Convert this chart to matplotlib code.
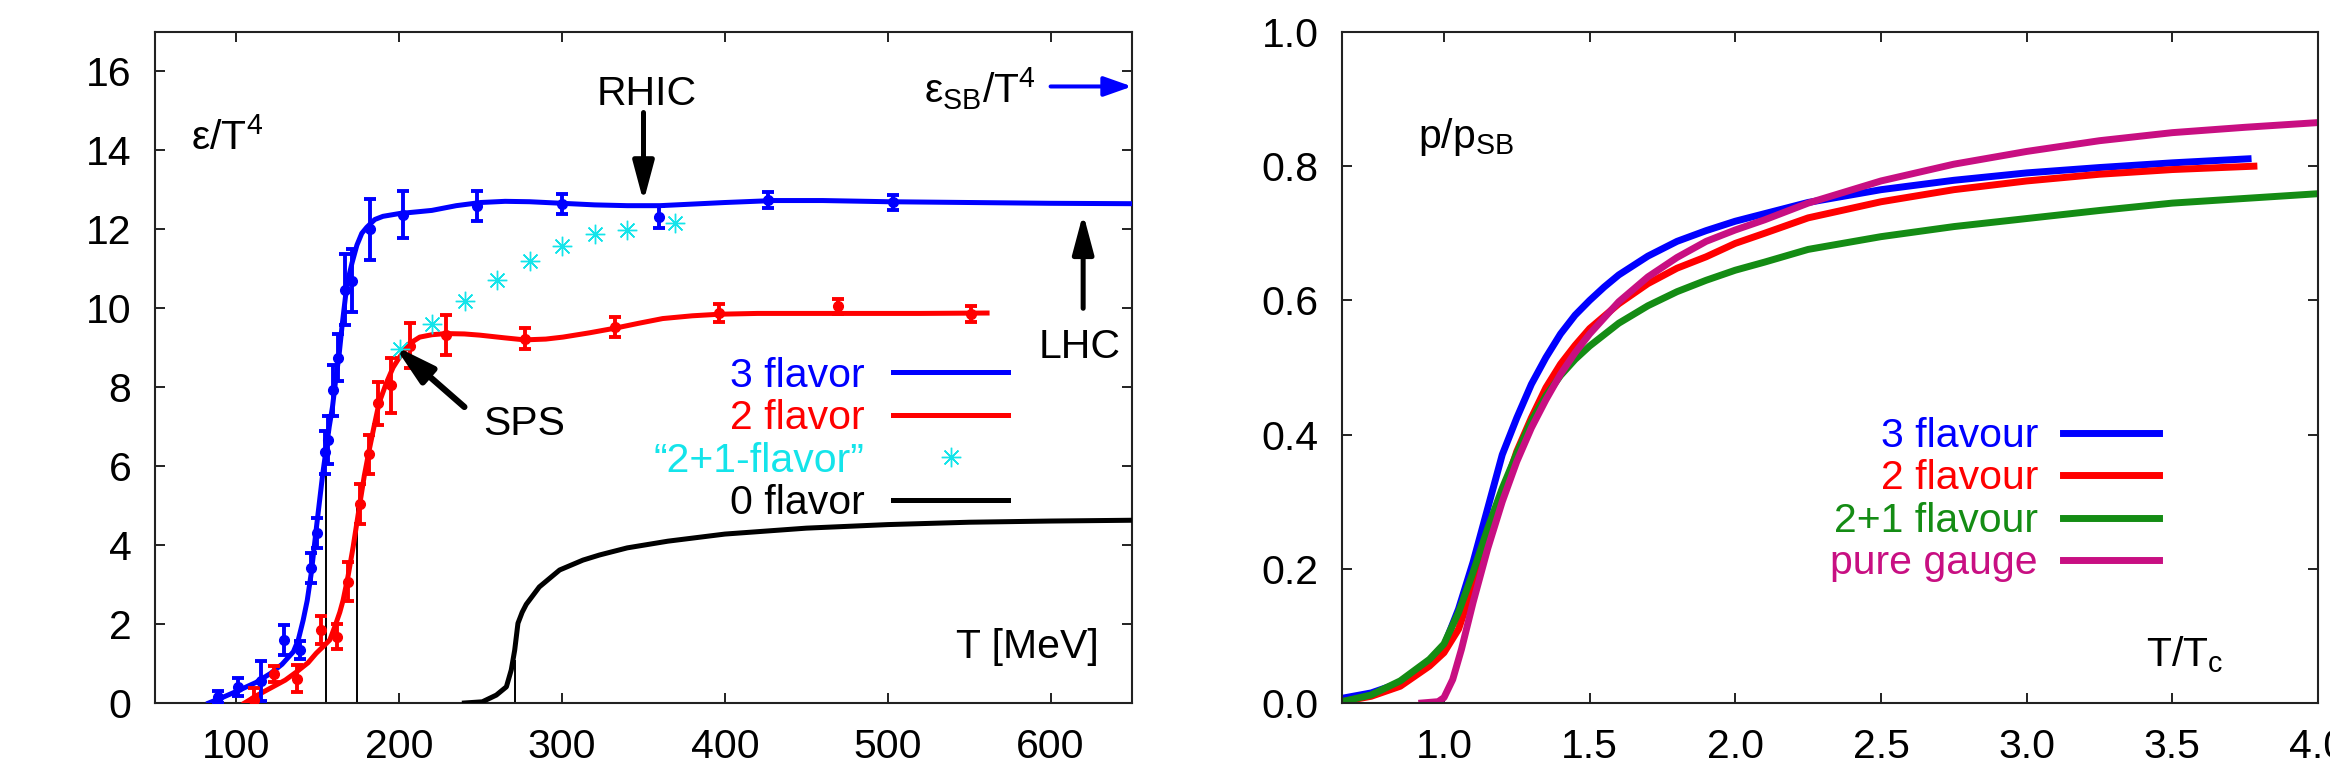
import matplotlib
matplotlib.use("Agg")
import matplotlib.pyplot as plt
from matplotlib.ticker import FormatStrFormatter, MultipleLocator

plt.rcParams["font.family"] = ["Liberation Sans", "DejaVu Sans"]
plt.rcParams["mathtext.fontset"] = "custom"
plt.rcParams["mathtext.rm"] = "Liberation Sans"
plt.rcParams["mathtext.default"] = "regular"

# ---- left panel: energy density ----
# 3 flavor lattice points (T [MeV], eps/T^4, error)
T3 = [88.9, 101, 115, 129.3, 139, 145.7, 149.6, 154.3, 156, 159.4, 162.5,
      166.6, 170.7, 182.3, 202.3, 248, 300, 359.4, 426.3, 503]
e3 = [0.16, 0.4, 0.56, 1.6, 1.34, 3.43, 4.3, 6.35, 6.66, 7.92, 8.75,
      10.47, 10.7, 12.0, 12.37, 12.6, 12.65, 12.31, 12.75, 12.69]
err3 = [0.15, 0.23, 0.5, 0.38, 0.23, 0.38, 0.38, 0.55, 0.6, 0.65, 0.6,
        0.9, 0.8, 0.77, 0.6, 0.38, 0.25, 0.28, 0.2, 0.19]

# 2 flavor lattice points
T2 = [110.7, 123, 137, 151.8, 161.9, 168.6, 175.8, 181.3, 187, 194.8,
      206.8, 228.7, 277, 332.8, 396.6, 469.6, 551]
e2 = [0.08, 0.73, 0.62, 1.85, 1.68, 3.07, 5.04, 6.3, 7.59, 8.05,
      9.05, 9.32, 9.23, 9.53, 9.89, 10.05, 9.85]
err2 = [0.3, 0.2, 0.35, 0.36, 0.32, 0.49, 0.5, 0.49, 0.55, 0.7,
        0.57, 0.5, 0.27, 0.25, 0.23, 0.19, 0.2]

# "2+1-flavor" points
T21 = [200.3, 220, 240.2, 260, 280, 300, 320, 339.8, 369.6]
e21 = [8.98, 9.6, 10.19, 10.71, 11.19, 11.59, 11.89, 11.99, 12.16]

# fitted curves
T3_fit = [83, 92, 102, 112, 121, 128, 135, 138, 141, 143.5, 146, 149, 151,
          153, 155, 157, 159, 161, 163, 165, 167, 169, 171, 174, 177, 180,
          185, 190, 200, 220, 235, 250, 265, 280, 300, 320, 340, 360, 380,
          400, 430, 460, 500, 550, 600, 650]
e3_fit = [0.0, 0.15, 0.33, 0.52, 0.75, 0.98, 1.3, 1.6, 2.1, 2.6, 3.3, 4.4,
          5.1, 5.8, 6.4, 7.0, 7.5, 8.2, 8.8, 9.6, 10.3, 10.8, 11.15, 11.6,
          11.9, 12.05, 12.25, 12.33, 12.4, 12.48, 12.6, 12.68, 12.71, 12.7,
          12.66, 12.62, 12.6, 12.6, 12.64, 12.68, 12.73, 12.73, 12.7,
          12.68, 12.66, 12.65]

T2_fit = [105, 113, 120.6, 130, 137, 144, 149, 153, 157.4, 161, 163.5,
          165.5, 168.5, 171.7, 175.8, 178.5, 181.5, 184.5, 187.6, 192,
          196.2, 200, 204.4, 208, 212.6, 220, 228.7, 240, 249.4, 265, 277,
          290, 300.5, 317, 333, 347, 361.8, 380, 396.6, 420, 468, 520, 561]
e2_fit = [0.0, 0.2, 0.37, 0.58, 0.79, 1.02, 1.26, 1.42, 1.6, 2.0, 2.3,
          2.6, 3.2, 3.96, 5.05, 5.75, 6.4, 7.0, 7.6, 8.1, 8.5, 8.75, 9.0,
          9.15, 9.27, 9.33, 9.36, 9.35, 9.32, 9.25, 9.2, 9.22, 9.27, 9.38,
          9.5, 9.62, 9.74, 9.81, 9.85, 9.87, 9.87, 9.87, 9.88]

T0 = [240, 251, 259.6, 265.8, 268.8, 270.9, 272.9, 275.5, 278, 286, 298.5,
      312.8, 323, 340, 365, 400, 450, 500, 550, 600, 650]
e0 = [0.0, 0.03, 0.2, 0.41, 0.84, 1.34, 2.02, 2.3, 2.5, 2.94, 3.37,
      3.62, 3.75, 3.93, 4.1, 4.28, 4.43, 4.52, 4.58, 4.61, 4.63]

# critical temperature markers
Tc_T = [155.3, 173.8, 270.9]
Tc_top = [5.77, 4.95, 1.1]

# ---- right panel: pressure p/p_SB vs T/Tc ----
x3f = [0.65, 0.75, 0.85, 0.95, 1.0, 1.05, 1.1, 1.15, 1.2, 1.25, 1.3, 1.35,
       1.4, 1.45, 1.5, 1.55, 1.6, 1.7, 1.8, 1.9, 2.0, 2.25, 2.5, 2.75, 3.0,
       3.25, 3.5, 3.76]
p3f = [0.007, 0.015, 0.03, 0.058, 0.085, 0.14, 0.21, 0.29, 0.37, 0.425,
       0.475, 0.515, 0.55, 0.578, 0.60, 0.62, 0.638, 0.666, 0.688, 0.704,
       0.718, 0.746, 0.765, 0.779, 0.79, 0.798, 0.805, 0.811]

x2f = [0.65, 0.75, 0.85, 0.95, 1.0, 1.05, 1.1, 1.15, 1.2, 1.25, 1.3, 1.35,
       1.4, 1.45, 1.5, 1.6, 1.7, 1.8, 1.9, 2.0, 2.1, 2.25, 2.5, 2.75, 3.0,
       3.25, 3.5, 3.78]
p2f = [0.002, 0.01, 0.025, 0.055, 0.075, 0.11, 0.175, 0.245, 0.31, 0.375,
       0.425, 0.47, 0.505, 0.533, 0.558, 0.595, 0.625, 0.648, 0.665, 0.685,
       0.70, 0.723, 0.747, 0.765, 0.778, 0.788, 0.795, 0.80]

x21f = [0.65, 0.75, 0.85, 0.95, 1.0, 1.05, 1.1, 1.15, 1.2, 1.25, 1.3, 1.35,
        1.4, 1.45, 1.5, 1.6, 1.7, 1.8, 1.9, 2.0, 2.1, 2.25, 2.5, 2.75, 3.0,
        3.25, 3.5, 3.75, 4.0]
p21f = [0.002, 0.012, 0.033, 0.065, 0.088, 0.135, 0.195, 0.26, 0.32, 0.372,
        0.42, 0.458, 0.488, 0.512, 0.532, 0.566, 0.592, 0.613, 0.63, 0.645,
        0.657, 0.676, 0.695, 0.71, 0.722, 0.734, 0.745, 0.752, 0.759]

xgf = [0.924, 0.98, 1.0, 1.03, 1.06, 1.1, 1.15, 1.2, 1.25, 1.3, 1.35, 1.4,
       1.45, 1.5, 1.6, 1.7, 1.8, 1.9, 2.0, 2.1, 2.25, 2.5, 2.75, 3.0, 3.25,
       3.5, 3.75, 4.0]
pgf = [0.0, 0.002, 0.008, 0.035, 0.08, 0.15, 0.23, 0.30, 0.36, 0.41, 0.452,
       0.49, 0.522, 0.55, 0.598, 0.635, 0.664, 0.688, 0.705, 0.72, 0.745,
       0.778, 0.803, 0.822, 0.838, 0.85, 0.858, 0.865]

BLUE = "#0000ff"
RED = "#ff0000"
CYAN = "#14e4ea"
GREEN = "#148c14"
MAGENTA = "#c80f82"
FS = 29.5

fig = plt.figure(figsize=(23.3, 7.82), dpi=100)
ax1 = fig.add_axes([155 / 2330, 79 / 782, 977 / 2330, 671 / 782])
ax2 = fig.add_axes([1342 / 2330, 79 / 782, 976 / 2330, 671 / 782])

for ax in (ax1, ax2):
    for s in ax.spines.values():
        s.set_linewidth(1.5)
        s.set_color("#222222")
    ax.tick_params(direction="in", length=7.2, width=1.4, top=True,
                   right=True, labelsize=FS, color="#222222")
    ax.tick_params(axis="x", pad=18)
    ax.tick_params(axis="y", pad=17)

# left panel
ax1.vlines(Tc_T, 0, Tc_top, colors="black", lw=1.4, zorder=2)
l3, = ax1.plot(T3_fit, e3_fit, color=BLUE, lw=3.6, zorder=3, label="3 flavor")
l2, = ax1.plot(T2_fit, e2_fit, color=RED, lw=3.6, zorder=3, label="2 flavor")
l0, = ax1.plot(T0, e0, color="black", lw=3.6, zorder=3, label="0 flavor")
ax1.errorbar(T3, e3, yerr=err3, fmt="o", color=BLUE, ms=7,
             elinewidth=2.8, capsize=4, capthick=2.8, zorder=4)
ax1.errorbar(T2, e2, yerr=err2, fmt="o", color=RED, ms=7,
             elinewidth=2.8, capsize=4, capthick=2.8, zorder=4)
lc, = ax1.plot(T21, e21, ls="none", marker=(8, 2, 0), ms=14, mew=1.0,
               color=CYAN, zorder=5, label="\u201c2+1-flavor\u201d")

ax1.set_xlim(50, 650)
ax1.set_ylim(0, 17)
ax1.xaxis.set_major_locator(MultipleLocator(100))
ax1.yaxis.set_major_locator(MultipleLocator(2))

arrow = dict(arrowstyle="-|>,head_length=1.2,head_width=0.32", lw=3.6,
             color="black", shrinkA=0, shrinkB=0, mutation_scale=20)
ax1.annotate("", xy=(350, 12.7), xytext=(350, 14.96), arrowprops=arrow, zorder=6)
ax1.annotate("", xy=(620, 12.4), xytext=(620, 10.0), arrowprops=arrow, zorder=6)
ax1.annotate("", xy=(197, 9.05), xytext=(240, 7.5),
             arrowprops=dict(arrow, lw=4.5), zorder=6)
ax1.annotate("", xy=(650, 15.62), xytext=(600, 15.62),
             arrowprops=dict(arrowstyle="-|>,head_length=0.85,head_width=0.3",
                             lw=2.9, color=BLUE, shrinkA=0, shrinkB=0,
                             mutation_scale=20), zorder=6)

ax1.text(72, 14.03, "\u03b5/T$^4$", fontsize=FS, va="baseline")
ax1.text(352, 15.15, "RHIC", fontsize=FS, ha="center", va="baseline")
ax1.text(618, 8.73, "LHC", fontsize=FS, ha="center", va="baseline")
ax1.text(277, 6.78, "SPS", fontsize=FS, ha="center", va="baseline")
ax1.text(586, 1.15, "T [MeV]", fontsize=FS, ha="center", va="baseline")
ax1.text(591, 15.19, "\u03b5$_{SB}$/T$^4$", fontsize=FS, ha="right", va="baseline")

ax1.legend(handles=[l3, l2, lc, l0], loc="center right",
           bbox_to_anchor=(0.873, 0.393), frameon=False, markerfirst=False,
           fontsize=FS, handlelength=2.8, handletextpad=0.7,
           labelspacing=0.11, borderpad=0, borderaxespad=0, numpoints=1,
           labelcolor=[BLUE, RED, CYAN, "black"])

# right panel
r3, = ax2.plot(x3f, p3f, color=BLUE, lw=5, label="3 flavour")
r2, = ax2.plot(x2f, p2f, color=RED, lw=5, label="2 flavour")
r21, = ax2.plot(x21f, p21f, color=GREEN, lw=5, label="2+1 flavour")
rg, = ax2.plot(xgf, pgf, color=MAGENTA, lw=5, label="pure gauge")

ax2.set_xlim(0.65, 4.0)
ax2.set_ylim(0, 1.0)
ax2.xaxis.set_major_locator(MultipleLocator(0.5))
ax2.yaxis.set_major_locator(MultipleLocator(0.2))
ax2.xaxis.set_major_formatter(FormatStrFormatter("%.1f"))
ax2.yaxis.set_major_formatter(FormatStrFormatter("%.1f"))

ax2.text(0.91, 0.827, "p/p$_{SB}$", fontsize=FS, va="baseline")
ax2.text(3.41, 0.054, "T/T$_c$", fontsize=FS, va="baseline")

ax2.legend(handles=[r3, r2, r21, rg], loc="center right",
           bbox_to_anchor=(0.837, 0.303), frameon=False, markerfirst=False,
           fontsize=FS, handlelength=2.35, handletextpad=0.6,
           labelspacing=0.11, borderpad=0, borderaxespad=0,
           labelcolor=[BLUE, RED, GREEN, MAGENTA])

fig.savefig("out.png", dpi=100)
